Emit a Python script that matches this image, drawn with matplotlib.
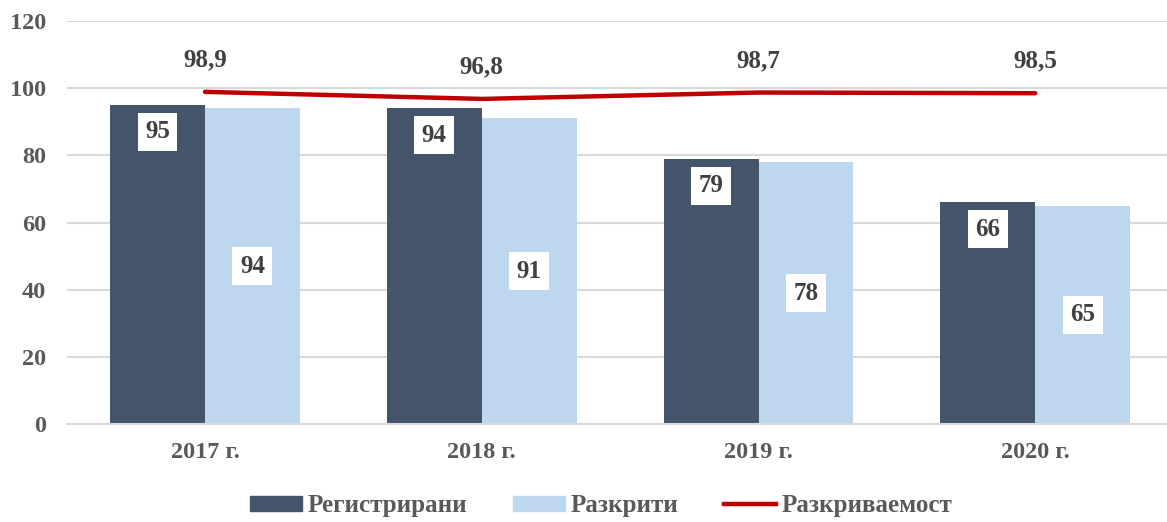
import matplotlib

matplotlib.use("Agg")
import matplotlib.pyplot as plt  # noqa: E402
import numpy as np  # noqa: E402
from matplotlib.lines import Line2D  # noqa: E402
from matplotlib.patches import Patch  # noqa: E402

years = ["2017 г.", "2018 г.", "2019 г.", "2020 г."]
registered = [95, 94, 79, 66]
solved = [94, 91, 78, 65]
solve_rate = [98.9, 96.8, 98.7, 98.5]
rate_labels = ["98,9", "96,8", "98,7", "98,5"]

DARK = "#44546A"
LIGHT = "#BDD7EE"
RED = "#C00000"
TEXT = "#404040"
TICK = "#595959"

plt.rcParams["font.family"] = ["Liberation Serif", "DejaVu Serif"]
plt.rcParams["font.weight"] = "bold"

fig = plt.figure(figsize=(11.67, 5.22), dpi=100)
ax = fig.add_axes([0.0571, 0.1877, 0.9486, 0.7721])

x = np.arange(len(years))
w = 0.343
ax.bar(x - w / 2, registered, w, color=DARK, zorder=2)
ax.bar(x + w / 2, solved, w, color=LIGHT, zorder=2)
ax.plot(x, solve_rate, color=RED, lw=3.2, solid_capstyle="round", zorder=3)

box = dict(boxstyle="square,pad=0.3", fc="white", ec="none")
for xi, v in zip(x, registered):
    ax.text(xi - w / 2, v - 8, str(v), ha="center", va="center", fontsize=18,
            fontweight="bold", color=TEXT, bbox=box, zorder=4)
for xi, v in zip(x, solved):
    ax.text(xi + w / 2, v / 2, str(v), ha="center", va="center", fontsize=18,
            fontweight="bold", color=TEXT, bbox=box, zorder=4)
for xi, v, lab in zip(x, solve_rate, rate_labels):
    ax.text(xi, v + 9.5, lab, ha="center", va="center", fontsize=18,
            fontweight="bold", color=TEXT, zorder=4)

ax.set_xlim(-0.5, 3.5)
ax.set_ylim(0, 120)
ax.set_yticks(range(0, 121, 20))
ax.set_xticks(x)
ax.set_xticklabels(years)
ax.tick_params(axis="both", length=0, labelsize=17.5, colors=TICK)
ax.tick_params(axis="x", pad=13)
ax.tick_params(axis="y", pad=15)
ax.grid(axis="y", color="#D9D9D9", lw=1.5, zorder=0)
for side in ("top", "right", "left"):
    ax.spines[side].set_visible(False)
ax.spines["bottom"].set_color("#D9D9D9")
ax.spines["bottom"].set_linewidth(1.5)

handles = [
    Patch(color=DARK, label="Регистрирани"),
    Patch(color=LIGHT, label="Разкрити"),
    Line2D([], [], color=RED, lw=3.2, label="Разкриваемост"),
]
leg = fig.legend(handles=handles, loc="center", bbox_to_anchor=(0.515, 0.031),
                 ncol=3, frameon=False, fontsize=18, handlelength=2.08,
                 handleheight=0.52, handletextpad=0.22, columnspacing=1.84)
for t in leg.get_texts():
    t.set_color(TICK)

fig.savefig("out.png", dpi=100)
